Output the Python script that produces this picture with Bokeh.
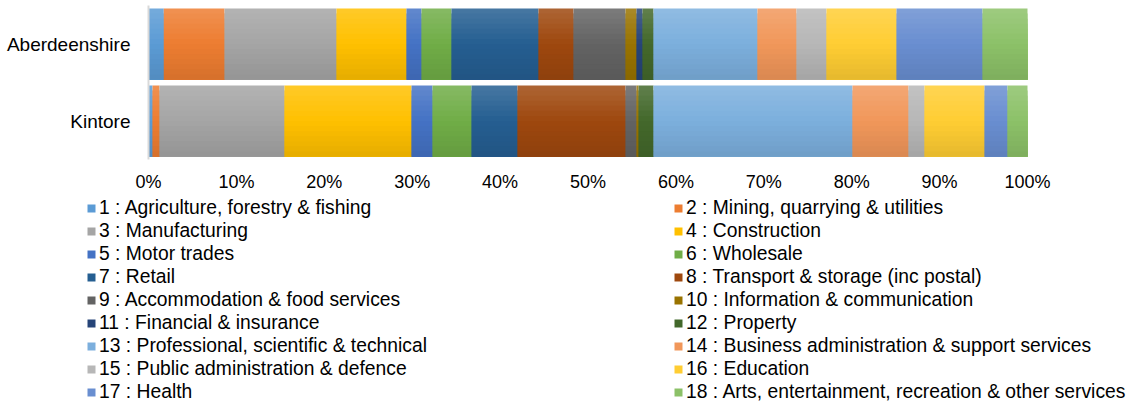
from bokeh.plotting import figure
from bokeh.models import (Range1d, FixedTicker, PrintfTickFormatter, ColumnDataSource,
                          Legend, LegendItem)
from bokeh.embed import file_html
from bokeh.resources import INLINE
import numpy as np

# ---------------- data ----------------
categories = ["Aberdeenshire", "Kintore"]
sectors = [
    "1 : Agriculture, forestry & fishing",
    "2 : Mining, quarrying & utilities",
    "3 : Manufacturing",
    "4 : Construction",
    "5 : Motor trades",
    "6 : Wholesale",
    "7 : Retail",
    "8 : Transport & storage (inc postal)",
    "9 : Accommodation & food services",
    "10 : Information & communication",
    "11 : Financial & insurance",
    "12 : Property",
    "13 : Professional, scientific & technical",
    "14 : Business administration & support services",
    "15 : Public administration & defence",
    "16 : Education",
    "17 : Health",
    "18 : Arts, entertainment, recreation & other services",
]
aberdeenshire = [1.74, 6.91, 12.74, 7.96, 1.71, 3.41, 9.90, 3.98, 5.92, 1.25,
                 0.68, 1.25, 11.83, 4.44, 3.41, 7.97, 9.78, 5.12]
kintore = [0.46, 0.79, 14.22, 14.45, 2.39, 4.44, 5.23, 12.29, 1.25, 0.23,
           0.0, 1.70, 22.64, 6.37, 1.82, 6.83, 2.61, 2.28]
x_ticks = [0, 10, 20, 30, 40, 50, 60, 70, 80, 90, 100]

# ---------------- style / layout ----------------
colors = ["#5B9BD5", "#ED7D31", "#A5A5A5", "#FFC000", "#4472C4", "#70AD47",
          "#255E91", "#9E480E", "#636363", "#997300", "#264478", "#43682B",
          "#7CAFDD", "#F1975A", "#B7B7B7", "#FFCD33", "#698ED0", "#8CC168"]
FONT = "Liberation Sans"
TEXT = "#000000"
BAR_H = 0.922
N_BANDS = 14
W, H = 1131, 405
PLOT_L, PLOT_R = 148, 1027      # pixel extent of the 0..100% axis
PLOT_T, PLOT_B = 5, 159         # pixel extent of the category axis
px_x = (PLOT_R - PLOT_L) / 100.0
px_y = (PLOT_B - PLOT_T) / 2.0


def hex2rgb(h):
    h = h.lstrip("#")
    return [int(h[i:i + 2], 16) for i in (0, 2, 4)]


def shade(h, t):
    # t: 0 top .. 1 bottom ; lighter at top, base in middle, darker at bottom
    r, g, b = hex2rgb(h)
    if t < 0.5:
        k = (0.5 - t) / 0.5 * 0.16
        r, g, b = [c + (255 - c) * k for c in (r, g, b)]
    else:
        k = (t - 0.5) / 0.5 * 0.10
        r, g, b = [c * (1 - k) for c in (r, g, b)]
    return "#%02x%02x%02x" % tuple(int(round(max(0, min(255, c)))) for c in (r, g, b))


x_range = Range1d(-PLOT_L / px_x, 100 + (W - PLOT_R) / px_x)
y_range = Range1d(1.5 - (H - PLOT_T) / px_y, 1.5 + PLOT_T / px_y)

p = figure(width=W, height=H, output_backend="svg", toolbar_location=None,
           x_range=x_range, y_range=y_range,
           min_border_left=0, min_border_right=0, min_border_top=0,
           min_border_bottom=0)
p.outline_line_color = None
p.xgrid.visible = False
p.ygrid.visible = False
p.background_fill_color = "white"
p.border_fill_color = "white"

ypos = {"Aberdeenshire": 1, "Kintore": 0}
values = {"Aberdeenshire": aberdeenshire, "Kintore": kintore}

for k in range(N_BANDS):
    t = (k + 0.5) / N_BANDS
    data = dict(left=[], right=[], top=[], bottom=[], color=[])
    for cat in categories:
        vals = np.array(values[cat])
        cum = np.concatenate([[0], np.cumsum(vals)])
        yc = ypos[cat]
        for i in range(len(sectors)):
            data["left"].append(cum[i])
            data["right"].append(cum[i + 1])
            data["top"].append(yc + BAR_H / 2 - k * BAR_H / N_BANDS)
            data["bottom"].append(yc - BAR_H / 2)
            data["color"].append(shade(colors[i], t))
    p.quad(left="left", right="right", top="top", bottom="bottom",
           fill_color="color", line_color=None, source=ColumnDataSource(data))

# legend swatches (base colours)
leg_src = ColumnDataSource(dict(left=[0] * 18, right=[0] * 18, top=[0] * 18,
                                bottom=[0] * 18, color=colors))
leg_r = p.quad(left="left", right="right", top="top", bottom="bottom",
               fill_color="color", line_color=None, source=leg_src)

for start, vx in ((0, 86), (1, 673)):
    items = [LegendItem(label=sectors[i], renderers=[leg_r], index=i)
             for i in range(start, 18, 2)]
    lg = Legend(items=items, location=(vx, 2), orientation="vertical")
    lg.background_fill_alpha = 0
    lg.border_line_color = None
    lg.padding = 0
    lg.margin = 0
    lg.glyph_width = 10
    lg.glyph_height = 10
    lg.label_standoff = 3
    lg.label_height = 22
    lg.spacing = 1
    lg.label_text_font = FONT
    lg.label_text_font_size = "19.3px"
    lg.label_text_color = TEXT
    p.add_layout(lg, "center")

# x axis
xa = p.xaxis[0]
xa.fixed_location = -0.5
xa.ticker = FixedTicker(ticks=x_ticks)
xa.formatter = PrintfTickFormatter(format="%d%%")
xa.axis_line_color = None
xa.major_tick_line_color = None
xa.minor_tick_line_color = None
xa.major_tick_out = 0
xa.major_label_standoff = 12
xa.major_label_text_font = FONT
xa.major_label_text_font_size = "18px"
xa.major_label_text_color = TEXT

# y axis
ya = p.yaxis[0]
ya.fixed_location = 0
ya.bounds = (-0.5, 1.5)
ya.ticker = FixedTicker(ticks=[ypos[c] for c in categories])
ya.major_label_overrides = {ypos[c]: c for c in categories}
ya.axis_line_color = "#D9D9D9"
ya.axis_line_width = 2
ya.major_tick_line_color = None
ya.minor_tick_line_color = None
ya.major_tick_out = 0
ya.major_label_standoff = 18
ya.major_label_text_font = FONT
ya.major_label_text_font_size = "19px"
ya.major_label_text_color = TEXT

open("out.html", "w").write(file_html(p, INLINE))
